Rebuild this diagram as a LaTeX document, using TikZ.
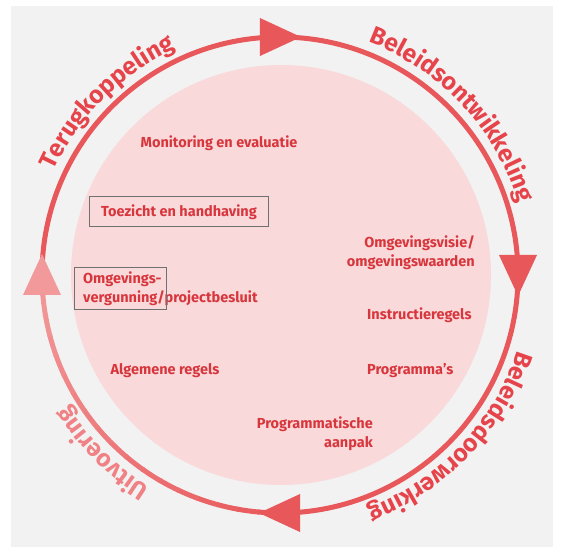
\documentclass[tikz,border=0pt]{standalone}
\usepackage{fontspec}
\setmainfont{Fira Sans}
\usetikzlibrary{decorations.text}

\definecolor{bggray}{HTML}{F2F2F2}
\definecolor{ringred}{HTML}{E8585B}
\definecolor{ringlight}{HTML}{F29A9B}
\definecolor{discpink}{HTML}{F9D9DA}
\definecolor{labelred}{HTML}{D8363D}
\definecolor{arcred}{HTML}{E6444A}
\definecolor{arclight}{HTML}{F08286}
\definecolor{boxgray}{HTML}{707070}

\newcommand\ringfont{\fontsize{24.5}{24.5}\selectfont\bfseries}

\tikzset{
    innertext/.style={font=\fontsize{14.5}{19}\selectfont\bfseries, text=labelred, inner sep=0pt},
    framebox/.style={draw=boxgray, line width=1pt},
    ringline/.style={line width=5pt},
    ringtext/.style={decorate, decoration={text along path, text align=center,
        text color=#1, text={|\ringfont|\ringword}}},
}

\begin{document}
\begin{tikzpicture}[x=1pt,y=1pt]
    \useasboundingbox (-280,275) rectangle (282,-284);
    \fill[bggray] (-269,269) rectangle (273,-272);

    \fill[discpink] (1,0) circle[radius=210pt];

    % ring
    \draw[ringline, ringred] (180:238pt) arc[start angle=180, end angle=-90, radius=238pt];
    \foreach \i in {0,...,17} {
        \pgfmathsetmacro\p{100-\i*100/17}
        \draw[ringline, ringred!\p!ringlight] (-90-5*\i:238pt)
            arc[start angle=-90-5*\i, end angle=-95.4-5*\i, radius=238pt];
    }
    \foreach \a/\c in {90/ringred, 0/ringred, -90/ringred, 180/ringlight}
        \fill[\c, rotate=\a] (238pt,-21pt) -- (219pt,20pt) -- (257pt,20pt) -- cycle;

    % text on the ring
    \def\ringword{Terugkoppeling}
    \path[ringtext=arcred] (175:249pt) arc[start angle=175, end angle=95, radius=249pt];
    \def\ringword{Beleidsontwikkeling}
    \path[ringtext=arcred] (85:249pt) arc[start angle=85, end angle=1, radius=249pt];
    \def\ringword{Beleidsdoorwerking}
    \path[ringtext=arcred] (-1:249pt) arc[start angle=-1, end angle=-86, radius=249pt];
    \def\ringword{Uitvoering}
    \path[ringtext=arclight] (-95:249pt) arc[start angle=-95, end angle=-175, radius=249pt];

    % inside
    \node[innertext] (monitoring) at (-61,132) {Monitoring en evaluatie};
    \node[innertext, framebox, minimum width=178pt, minimum height=30pt] (toezicht) at (-101,63) {Toezicht en handhaving};
    \node[innertext, align=left, anchor=west] (vergunning) at (-197,-14) {Omgevings-\\vergunning/projectbesluit};
    \draw[framebox] (-205,7) rectangle (-113,-35);
    \node[innertext] (algemeen) at (-115,-96) {Algemene regels};

    \node[innertext, align=right, anchor=east] (visie) at (195,22) {Omgevingsvisie/\\omgevingswaarden};
    \node[innertext, anchor=west] (instructie) at (87,-40) {Instructieregels};
    \node[innertext, anchor=west] (programma) at (87,-96) {Programma's};
    \node[innertext, align=right, anchor=east] (aanpak) at (93,-159) {Programmatische\\aanpak};
\end{tikzpicture}
\end{document}
